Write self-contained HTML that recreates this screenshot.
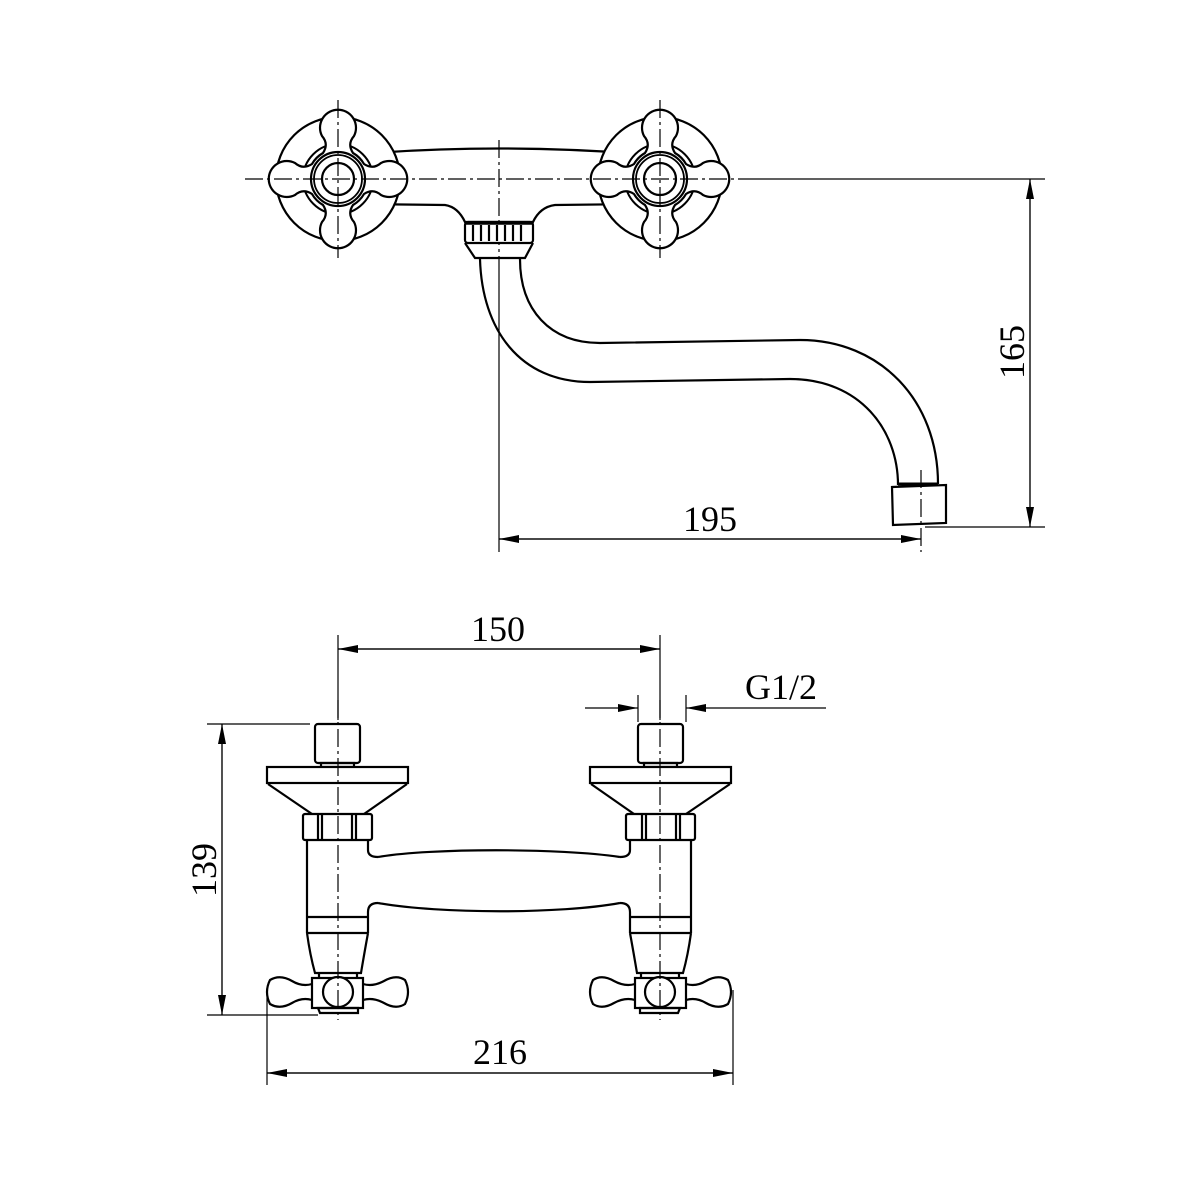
<!DOCTYPE html>
<html><head><meta charset="utf-8"><style>body{margin:0;background:#fff}svg{display:block}text{font-family:"Liberation Serif",serif;font-size:36px;fill:#000}</style></head><body>
<svg width="1200" height="1200" viewBox="0 0 1200 1200" xmlns="http://www.w3.org/2000/svg">
<defs>
<marker id="a" viewBox="0 0 20 8" refX="20" refY="4" markerWidth="20" markerHeight="8" markerUnits="userSpaceOnUse" orient="auto"><path d="M0,0 L20,4 L0,8 Z" fill="#000"/></marker>
<g id="cross">
<circle r="62" fill="#fff" stroke="#000" stroke-width="2.2"/>
<circle r="35" fill="none" stroke="#000" stroke-width="2"/>
<path fill="#fff" stroke="#000" stroke-width="2.2" d="M26,-15 Q35,-9 43,-16 A18,18 0 1 1 43,16 Q35,9 26,15 Q22,22 15,26 Q9,35 16,43 A18,18 0 1 1 -16,43 Q-9,35 -15,26 Q-22,22 -26,15 Q-35,9 -43,16 A18,18 0 1 1 -43,-16 Q-35,-9 -26,-15 Q-22,-22 -15,-26 Q-9,-35 -16,-43 A18,18 0 1 1 16,-43 Q9,-35 15,-26 Q22,-22 26,-15 Z"/>
<circle r="27" fill="#fff" stroke="#000" stroke-width="2.2"/>
<circle r="24" fill="none" stroke="#000" stroke-width="1.8"/>
<circle r="16" fill="#fff" stroke="#000" stroke-width="2.2"/>
</g>
<g id="col" fill="none" stroke="#000" stroke-width="2.2">
<rect x="315" y="724" width="45" height="39" rx="3" fill="#fff"/>
<rect x="321" y="763" width="33" height="4"/>
<rect x="267" y="767" width="141" height="16" fill="#fff"/>
<path d="M268,784 L312,814 M407,784 L364,814"/>
<rect x="303" y="814" width="69" height="26" rx="2"/>
<path d="M318,814 V840 M322,814 V840 M352,814 V840 M356,814 V840"/>
<path d="M307,840 V933 M368,840 V850 Q368,857 378,857 M378,903 Q368,903 368,912 V933"/>
<path d="M307,917 H368 M307,933 H368 M307,933 Q310,955 315,973 H361 Q364,955 368,933"/>
<path d="M319,973 V978 M357,973 V978"/>
<rect x="312" y="978" width="51" height="30" fill="#fff"/>
<circle cx="338" cy="992" r="15" fill="#fff"/>
<path d="M318,1008 H358 V1013 H320 Z"/>
<path d="M312,984 Q302,987 292,981 Q280,974 270,980 Q264,992 270,1004 Q280,1010 292,1003 Q302,997 312,1000"/>
<path d="M363,984 Q373,987 384,981 Q396,974 405,980 Q411,992 405,1004 Q396,1010 384,1003 Q373,997 363,1000"/>
</g>
</defs>

<!-- TOP VIEW -->
<path d="M360,154 Q499,143 640,154 L640,204 L555,205 Q540,207 533,222 L465,222 Q458,207 445,205 L360,204 Z" fill="#fff" stroke="#000" stroke-width="2.2"/>
<use href="#cross" transform="translate(338,179)"/>
<use href="#cross" transform="translate(660,179)"/>
<g fill="none" stroke="#000" stroke-width="1.2" stroke-dasharray="18 4 3 4"><path d="M245,179 H745 M338,100 V258 M660,100 V258 M499,140 V258"/></g>
<g fill="none" stroke="#000" stroke-width="2.2">
<rect x="465" y="222" width="68" height="21" rx="3" fill="#fff"/>
<path d="M465,223 H533" stroke-width="3.5"/>
<path d="M473,225 V241 M481,225 V241 M489,225 V241 M497,225 V241 M505,225 V241 M513,225 V241 M521,225 V241"/>
<path d="M465,243 L475,258 H525 L533,243"/>
<path d="M480,259 C482,330 520,382 590,382 L790,379 C860,379 898,430 898,485"/>
<path d="M520,259 C520,310 550,343 600,343 L800,340 C880,340 938,400 938,484"/>
<path d="M898,484 H938" stroke-width="3"/>
<path d="M892,487 L946,485 L946,523 L893,525 Z"/>
</g>
<g stroke="#000" stroke-width="1.2" fill="none">
<path d="M499,258 V552"/>
<path d="M921,470 V552" stroke-dasharray="18 4 3 4"/>
<path d="M745,179 H1045 M925,527 H1045"/>
<path d="M499,539 H921" marker-end="url(#a)"/>
<path d="M921,539 H499" marker-end="url(#a)"/>
<path d="M1030,179 V527" marker-end="url(#a)"/>
<path d="M1030,527 V179" marker-end="url(#a)"/>
</g>
<text x="710" y="531" text-anchor="middle">195</text>
<text transform="translate(1024,352) rotate(-90)" text-anchor="middle">165</text>

<!-- BOTTOM VIEW -->
<path d="M378,857 C430,848 560,848 620,857 L620,903 C560,914 440,914 378,903 Z" fill="#fff" stroke="none"/>
<path d="M378,857 C430,848 560,848 620,857 M378,903 C440,914 560,914 620,903" fill="none" stroke="#000" stroke-width="2.2"/>
<use href="#col"/>
<use href="#col" transform="translate(998,0) scale(-1,1)"/>
<g stroke="#000" stroke-width="1.2" stroke-dasharray="18 4 3 4" fill="none"><path d="M338,700 V1020 M660,700 V1020"/></g>
<g stroke="#000" stroke-width="1.2" fill="none">
<path d="M338,635 V720 M660,635 V720 M638,695 V722 M686,695 V722"/>
<path d="M338,649 H660" marker-end="url(#a)"/>
<path d="M660,649 H338" marker-end="url(#a)"/>
<path d="M585,708 H638" marker-end="url(#a)"/>
<path d="M826,708 H686" marker-end="url(#a)"/>
<path d="M207,724 H310 M207,1015 H318"/>
<path d="M222,724 V1015" marker-end="url(#a)"/>
<path d="M222,1015 V724" marker-end="url(#a)"/>
<path d="M267,990 V1085 M733,990 V1085"/>
<path d="M267,1073 H733" marker-end="url(#a)"/>
<path d="M733,1073 H267" marker-end="url(#a)"/>
</g>
<text x="498" y="641" text-anchor="middle">150</text>
<text x="781" y="699" text-anchor="middle">G1/2</text>
<text transform="translate(216,870) rotate(-90)" text-anchor="middle">139</text>
<text x="500" y="1064" text-anchor="middle">216</text>
</svg>
</body></html>
